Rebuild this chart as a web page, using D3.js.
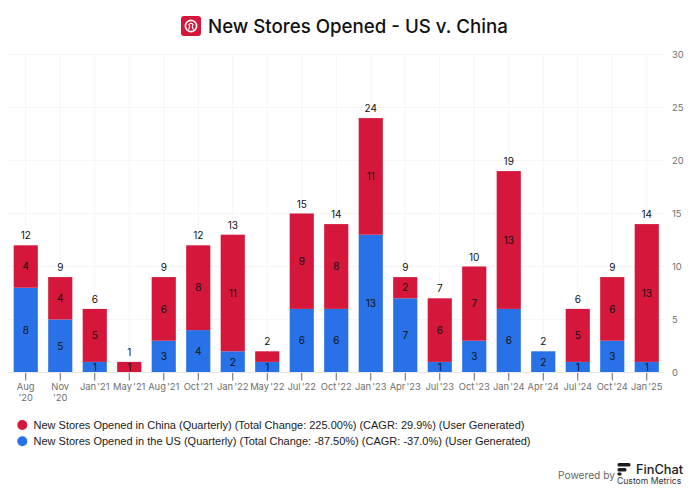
<!DOCTYPE html>
<html>
<head>
<meta charset="utf-8">
<script src="https://cdn.jsdelivr.net/npm/d3@7"></script>
<style>
  html, body { margin: 0; padding: 0; background: #fff; }
  svg { display: block; }
  .tick-label { font-family: Inter, sans-serif; font-size: 9.4px; fill: #6f6f6f; word-spacing: -1.5px; }
  .seg-label { font-family: Inter, sans-serif; font-size: 10px; fill: #111; text-anchor: middle; }
  .legend-label { font-family: "Liberation Sans", sans-serif; font-size: 11px; fill: #1a1a1a; }
</style>
</head>
<body>
<div id="chart"></div>
<script>
const categories = ["Aug '20", "Nov '20", "Jan '21", "May '21", "Aug '21", "Oct '21", "Jan '22", "May '22", "Jul '22", "Oct '22",
  "Jan '23", "Apr '23", "Jul '23", "Oct '23", "Jan '24", "Apr '24", "Jul '24", "Oct '24", "Jan '25"];
const usValues = [8, 5, 1, 0, 3, 4, 2, 1, 6, 6, 13, 7, 1, 3, 6, 2, 1, 3, 1];
const chinaValues = [4, 4, 5, 1, 6, 8, 11, 1, 9, 8, 11, 2, 6, 7, 13, 0, 5, 6, 13];
const yTicks = [0, 5, 10, 15, 20, 25, 30];
const legendLabels = [
  "New Stores Opened in China (Quarterly) (Total Change: 225.00%) (CAGR: 29.9%) (User Generated)",
  "New Stores Opened in the US (Quarterly) (Total Change: -87.50%) (CAGR: -37.0%) (User Generated)"
];
//The reference leaves this China segment without a number
const unlabelledChina = ["May '22"];
const red = "#d4173a";
const blue = "#2871e6";

const width = 690, height = 488;
const svg = d3.select("#chart").append("svg").attr("width", width).attr("height", height);

const x = d3.scaleBand().domain(categories).range([8.5, 664]).paddingInner(0.3).paddingOuter(0.15);
const y = d3.scaleLinear().domain([0, 30]).range([372.5, 54.5]);

//Gridlines
svg.append("g").selectAll("line").data(yTicks.slice(1)).enter().append("line")
  .attr("x1", 8).attr("x2", 664)
  .attr("y1", d => y(d)).attr("y2", d => y(d))
  .attr("stroke", "#f5f5f5");
svg.append("g").selectAll("line").data(categories).enter().append("line")
  .attr("x1", d => x(d) + x.bandwidth() / 2).attr("x2", d => x(d) + x.bandwidth() / 2)
  .attr("y1", y(30)).attr("y2", y(0))
  .attr("stroke", "#f5f5f5");

//Stacked bars
const rows = categories.map((c, i) => ({ category: c, us: usValues[i], china: chinaValues[i] }));
const stacked = d3.stack().keys(["us", "china"])(rows);
const colors = { us: blue, china: red };

stacked.forEach(function (layer) {
  svg.append("g").selectAll("rect").data(layer).enter().append("rect")
    .attr("x", d => x(d.data.category))
    .attr("width", x.bandwidth())
    .attr("y", d => y(d[1]))
    .attr("height", d => y(d[0]) - y(d[1]))
    .attr("fill", colors[layer.key]);

  //Segment labels
  const labelled = layer.filter(d => d[1] > d[0] && !(layer.key === "china" && unlabelledChina.includes(d.data.category)));
  svg.append("g").selectAll("text").data(labelled).enter().append("text")
    .attr("class", "seg-label")
    .attr("x", d => x(d.data.category) + x.bandwidth() / 2)
    .attr("y", d => y((d[0] + d[1]) / 2) + 3.7)
    .text(d => d[1] - d[0]);
});

//Totals
svg.append("g").selectAll("text").data(rows).enter().append("text")
  .attr("class", "seg-label")
  .attr("x", d => x(d.category) + x.bandwidth() / 2)
  .attr("y", d => y(d.us + d.china) - 6)
  .text(d => d.us + d.china);

//Axis line and ticks
svg.append("line").attr("x1", 8).attr("x2", 664).attr("y1", y(0)).attr("y2", y(0)).attr("stroke", "#e6e6e6");
svg.append("g").selectAll("line").data(categories).enter().append("line")
  .attr("x1", d => x(d) + x.bandwidth() / 2).attr("x2", d => x(d) + x.bandwidth() / 2)
  .attr("y1", y(0) + 0.5).attr("y2", y(0) + 8)
  .attr("stroke", "#666");

//X tick labels, the first two wrap on two lines
svg.append("g").selectAll("text").data(categories).enter().append("text")
  .attr("class", "tick-label")
  .attr("text-anchor", "middle")
  .attr("x", d => x(d) + x.bandwidth() / 2)
  .attr("y", 390)
  .each(function (d, i) {
    const parts = d.split(" ");
    if (i < 2) {
      d3.select(this).append("tspan").text(parts[0]);
      d3.select(this).append("tspan").attr("x", x(d) + x.bandwidth() / 2).attr("dy", 10.5).text(parts[1]);
    } else {
      d3.select(this).text(d);
    }
  });

//Y tick labels
svg.append("g").selectAll("text").data(yTicks).enter().append("text")
  .attr("class", "tick-label")
  .attr("x", 672)
  .attr("y", d => y(d) + 3.5)
  .text(d => d);

//Title with logo
const logo = svg.append("g").attr("transform", "translate(181,16)");
logo.append("rect").attr("width", 20).attr("height", 20).attr("rx", 3).attr("fill", red);
logo.append("circle").attr("cx", 10).attr("cy", 10).attr("r", 5.6).attr("fill", "none").attr("stroke", "#fff").attr("stroke-width", 1.6);
logo.append("path").attr("d", "M7.5 13.5 Q9.5 11 8 8.5 Q10 6 12 8.5 Q10.5 11 12.5 13.5").attr("fill", "none").attr("stroke", "#fff").attr("stroke-width", 1.2);
svg.append("text").attr("x", 208).attr("y", 33)
  .attr("font-family", "Inter, sans-serif").attr("font-size", 18.7).attr("font-weight", 500).attr("fill", "#111")
  .text("New Stores Opened - US v. China");

//Legend
const legendColors = [red, blue];
legendLabels.forEach(function (label, i) {
  const ly = 425 + i * 16.3;
  svg.append("circle").attr("cx", 22.3).attr("cy", ly).attr("r", 5).attr("fill", legendColors[i]);
  svg.append("text").attr("class", "legend-label").attr("x", 33.5).attr("y", ly + 4).text(label);
});

//Powered by FinChat
svg.append("text").attr("x", 558).attr("y", 479)
  .attr("font-family", "Inter, sans-serif").attr("font-size", 10.2).attr("fill", "#666").text("Powered by");
const fc = svg.append("g").attr("transform", "translate(617.5,463)").attr("fill", "#1c1c1c");
fc.append("rect").attr("width", 13).attr("height", 3.5).attr("rx", 1.5);
fc.append("rect").attr("y", 5).attr("width", 9).attr("height", 3.5).attr("rx", 1.5);
fc.append("rect").attr("y", 9.5).attr("width", 4).attr("height", 3).attr("rx", 1);
svg.append("text").attr("x", 636).attr("y", 473.5)
  .attr("font-family", "Inter, sans-serif").attr("font-size", 12.8).attr("font-weight", 500).attr("fill", "#1c1c1c").text("FinChat");
svg.append("text").attr("x", 617).attr("y", 484)
  .attr("font-family", "Inter, sans-serif").attr("font-size", 8.6).attr("fill", "#333").text("Custom Metrics");
</script>
</body>
</html>
